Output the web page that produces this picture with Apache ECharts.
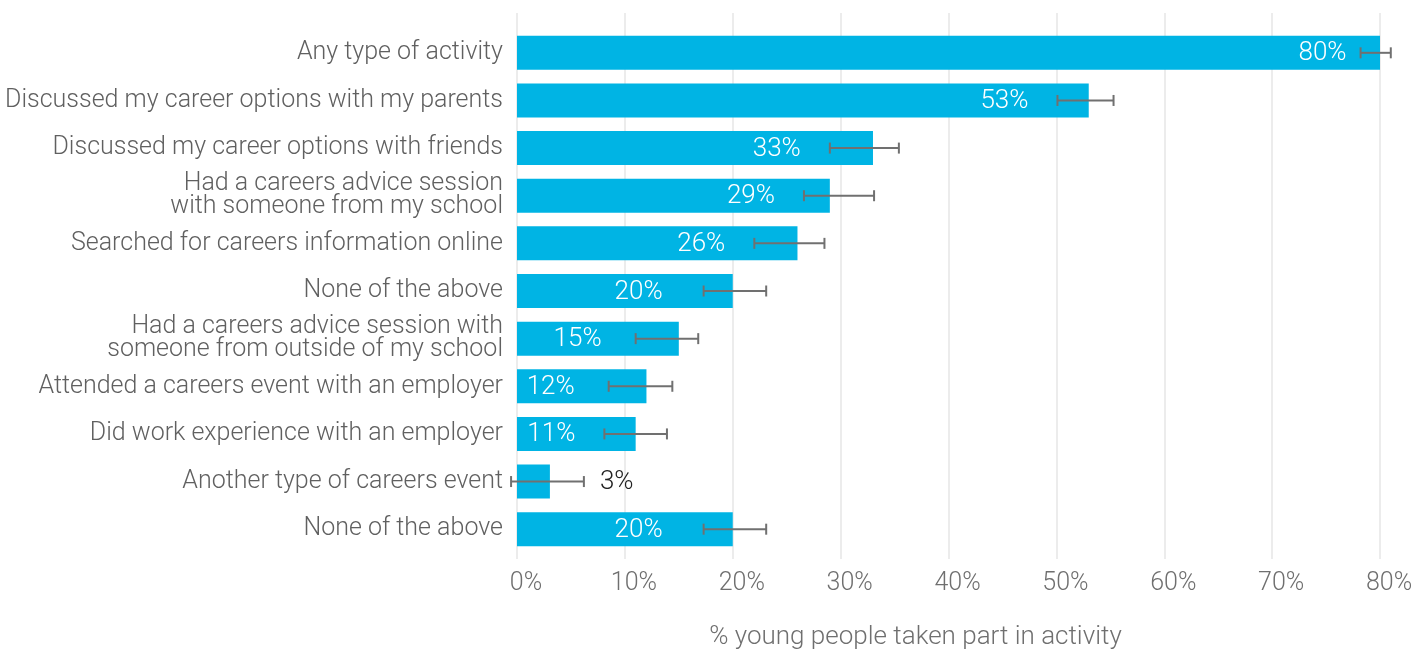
<!DOCTYPE html>
<html>
<head>
<meta charset="utf-8">
<script src="https://cdn.jsdelivr.net/npm/echarts@6/dist/echarts.min.js"></script>
<style>
html,body{margin:0;padding:0;background:#fff;}
#chart{width:1427px;height:655px;}
</style>
</head>
<body>
<div id="chart"></div>
<script>
const categories = [
  'Any type of activity',
  'Discussed my career options with my parents',
  'Discussed my career options with friends',
  'Had a careers advice session\nwith someone from my school',
  'Searched for careers information online',
  'None of the above',
  'Had a careers advice session with\nsomeone from outside of my school',
  'Attended a careers event with an employer',
  'Did work experience with an employer',
  'Another type of careers event',
  'None of the above '
];
const values = [80.0, 53.0, 33.0, 29.0, 26.0, 20.0, 15.0, 12.0, 11.0, 3.05, 20.0];
const errLow = [78.2, 50.1, 29.0, 26.6, 22.0, 17.3, 11.0, 8.5, 8.1, -0.55, 17.3];
const errHigh = [81.0, 55.3, 35.4, 33.1, 28.5, 23.1, 16.8, 14.4, 13.9, 6.2, 23.1];
const valueLabels = ['80%', '53%', '33%', '29%', '26%', '20%', '15%', '12%', '11%', '3%', '20%'];
const labelInside = [true, true, true, true, true, true, true, true, true, false, true];
const xTicks = [0, 10, 20, 30, 40, 50, 60, 70, 80];

// style: pixel gap between value label and the error bar end
const labelGapPx = [14, 29, 29, 29, 29, 41, 34, 34, 29, 16, 41];

const FONT = 'Roboto';
const chart = echarts.init(document.getElementById('chart'), null, {renderer: 'canvas'});

const errData = categories.map((c, i) => [i, errLow[i], errHigh[i], values[i]]);

chart.setOption({
  animation: false,
  grid: [
    {left: 517, right: 47, top: 29, bottom: 102},
    {left: 517, right: 47, top: 13, bottom: 92}
  ],
  xAxis: [
    {gridIndex: 0, type: 'value', min: xTicks[0], max: xTicks[xTicks.length - 1], interval: 10,
     axisLine: {show: false}, axisTick: {show: false}, axisLabel: {show: false}, splitLine: {show: false}},
    {gridIndex: 1, type: 'value', min: xTicks[0], max: xTicks[xTicks.length - 1], interval: 10,
     axisLine: {show: false}, axisTick: {show: false},
     axisLabel: {margin: 12, color: '#6f6f6f', fontFamily: FONT, fontWeight: 300, fontSize: 25,
       padding: [0, 0, 0, 18], formatter: v => v + '%'},
     splitLine: {show: true, lineStyle: {color: '#e6e6e6', width: 1.5}},
     name: '% young people taken part in activity', nameLocation: 'middle', nameGap: 65,
     nameTextStyle: {color: '#6f6f6f', fontFamily: FONT, fontWeight: 300, fontSize: 26,
       padding: [0, 66, 0, 0]}
    }
  ],
  yAxis: [
    {gridIndex: 0, type: 'category', data: categories, inverse: true,
     axisLine: {show: false}, axisTick: {show: false}, splitLine: {show: false},
     axisLabel: {margin: 14, color: '#606060', fontFamily: FONT, fontWeight: 300, fontSize: 25, lineHeight: 23,
       padding: [4, 0, 0, 0], formatter: v => v.trim()}
    },
    {gridIndex: 1, type: 'value', show: false}
  ],
  series: [
    {
      type: 'bar', xAxisIndex: 0, yAxisIndex: 0,
      data: values, barWidth: 34,
      itemStyle: {color: '#00b4e4'},
      silent: true
    },
    {
      type: 'custom', xAxisIndex: 0, yAxisIndex: 0, clip: false, z: 5,
      data: errData,
      renderItem: function (params, api) {
        const i = api.value(0);
        const lo = api.coord([api.value(1), i]);
        const hi = api.coord([api.value(2), i]);
        const y = lo[1];
        const cap = 5.5;
        const style = {stroke: '#707070', lineWidth: 2};
        const children = [
          {type: 'line', shape: {x1: lo[0], y1: y, x2: hi[0], y2: y}, style: style},
          {type: 'line', shape: {x1: lo[0], y1: y - cap, x2: lo[0], y2: y + cap}, style: style},
          {type: 'line', shape: {x1: hi[0], y1: y - cap, x2: hi[0], y2: y + cap}, style: style}
        ];
        if (labelInside[i]) {
          children.push({type: 'text', x: lo[0] - labelGapPx[i], y: y + 1,
            style: {text: valueLabels[i], fill: '#ffffff', align: 'right', verticalAlign: 'middle',
              fontFamily: FONT, fontWeight: 300, fontSize: 26}});
        } else {
          children.push({type: 'text', x: hi[0] + labelGapPx[i], y: y + 1,
            style: {text: valueLabels[i], fill: '#222222', align: 'left', verticalAlign: 'middle',
              fontFamily: FONT, fontWeight: 300, fontSize: 26}});
        }
        return {type: 'group', children: children};
      }
    }
  ]
});
</script>
</body>
</html>
